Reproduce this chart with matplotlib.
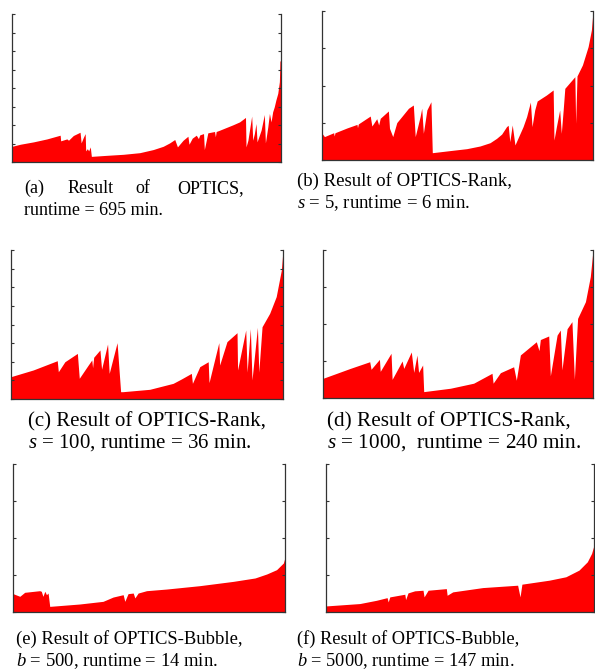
import matplotlib
matplotlib.use("Agg")
import matplotlib.pyplot as plt

# reachability profiles: x as fraction of width, y as fraction of axis height
optics_x = [0.000, 0.031, 0.080, 0.130, 0.179, 0.181, 0.204, 0.210, 0.228, 0.253, 0.257, 0.265,
            0.272, 0.274, 0.280, 0.285, 0.291, 0.295, 0.352, 0.414, 0.475, 0.525, 0.562, 0.586,
            0.605, 0.615, 0.636, 0.654, 0.658, 0.670, 0.685, 0.693, 0.698, 0.712, 0.715, 0.728,
            0.753, 0.756, 0.759, 0.772, 0.821, 0.846, 0.868, 0.870, 0.877, 0.891, 0.895, 0.901,
            0.907, 0.911, 0.926, 0.938, 0.942, 0.951, 0.957, 0.963, 0.969, 0.975, 0.981, 0.988,
            0.994, 0.996, 1.000]
optics_y = [0.106, 0.120, 0.136, 0.156, 0.181, 0.143, 0.156, 0.147, 0.179, 0.201, 0.129, 0.165,
            0.192, 0.075, 0.090, 0.075, 0.102, 0.038, 0.045, 0.052, 0.063, 0.084, 0.106, 0.129,
            0.152, 0.102, 0.147, 0.174, 0.120, 0.161, 0.181, 0.158, 0.183, 0.192, 0.084, 0.197,
            0.206, 0.170, 0.206, 0.215, 0.251, 0.271, 0.301, 0.102, 0.147, 0.310, 0.147, 0.192,
            0.260, 0.136, 0.215, 0.321, 0.129, 0.238, 0.328, 0.271, 0.339, 0.373, 0.419, 0.464,
            0.543, 0.683, 0.683]

rank5_x = [0.000, 0.009, 0.043, 0.045, 0.048, 0.092, 0.129, 0.131, 0.134, 0.178, 0.184, 0.202,
           0.209, 0.215, 0.245, 0.249, 0.261, 0.276, 0.294, 0.319, 0.337, 0.344, 0.362, 0.368,
           0.374, 0.387, 0.402, 0.407, 0.472, 0.534, 0.583, 0.620, 0.644, 0.663, 0.681, 0.687,
           0.693, 0.702, 0.712, 0.742, 0.755, 0.769, 0.775, 0.785, 0.794, 0.828, 0.853, 0.856,
           0.865, 0.877, 0.883, 0.890, 0.896, 0.933, 0.936, 0.941, 0.961, 0.982, 0.994, 1.000]
rank5_y = [0.179, 0.157, 0.183, 0.161, 0.183, 0.215, 0.239, 0.217, 0.242, 0.295, 0.228, 0.277,
           0.235, 0.280, 0.329, 0.213, 0.157, 0.251, 0.291, 0.347, 0.369, 0.157, 0.291, 0.347,
           0.179, 0.336, 0.391, 0.049, 0.063, 0.076, 0.094, 0.116, 0.145, 0.174, 0.224, 0.233,
           0.123, 0.235, 0.101, 0.224, 0.291, 0.389, 0.224, 0.336, 0.396, 0.436, 0.470, 0.134,
           0.224, 0.336, 0.179, 0.336, 0.481, 0.559, 0.246, 0.564, 0.638, 0.761, 0.872, 1.000]

rank100_x = [0.000, 0.082, 0.170, 0.174, 0.198, 0.244, 0.251, 0.284, 0.297, 0.300, 0.304, 0.327,
             0.333, 0.355, 0.361, 0.390, 0.403, 0.411, 0.510, 0.596, 0.627, 0.663, 0.667, 0.694,
             0.725, 0.728, 0.764, 0.767, 0.794, 0.831, 0.833, 0.863, 0.868, 0.880, 0.886, 0.906,
             0.911, 0.923, 0.951, 0.975, 0.994, 1.000]
rank100_y = [0.150, 0.195, 0.257, 0.183, 0.250, 0.306, 0.139, 0.228, 0.262, 0.210, 0.280, 0.329,
             0.200, 0.369, 0.172, 0.378, 0.049, 0.049, 0.065, 0.105, 0.135, 0.172, 0.105, 0.217,
             0.250, 0.110, 0.378, 0.228, 0.385, 0.445, 0.195, 0.463, 0.180, 0.472, 0.128, 0.481,
             0.180, 0.485, 0.575, 0.687, 0.866, 1.000]

rank1000_x = [0.000, 0.101, 0.173, 0.178, 0.209, 0.212, 0.252, 0.256, 0.293, 0.299, 0.327, 0.336,
              0.348, 0.354, 0.369, 0.373, 0.472, 0.558, 0.626, 0.630, 0.657, 0.706, 0.716, 0.731,
              0.790, 0.800, 0.805, 0.836, 0.842, 0.867, 0.879, 0.885, 0.904, 0.922, 0.931, 0.943,
              0.972, 0.990, 1.000]
rank1000_y = [0.133, 0.200, 0.245, 0.194, 0.261, 0.180, 0.302, 0.126, 0.250, 0.200, 0.311, 0.173,
              0.290, 0.173, 0.223, 0.043, 0.066, 0.100, 0.167, 0.100, 0.171, 0.211, 0.120, 0.291,
              0.380, 0.320, 0.395, 0.419, 0.150, 0.425, 0.459, 0.190, 0.468, 0.516, 0.126, 0.538,
              0.651, 0.820, 1.000]

bubble500_x = [0.000, 0.025, 0.043, 0.098, 0.104, 0.110, 0.117, 0.123, 0.129, 0.135, 0.245, 0.331,
               0.368, 0.405, 0.411, 0.423, 0.442, 0.448, 0.460, 0.491, 0.564, 0.687, 0.810, 0.890,
               0.933, 0.969, 0.994, 1.000]
bubble500_y = [0.124, 0.106, 0.133, 0.144, 0.140, 0.106, 0.140, 0.117, 0.128, 0.038, 0.054, 0.072,
               0.101, 0.117, 0.072, 0.124, 0.128, 0.095, 0.128, 0.144, 0.155, 0.178, 0.207, 0.230,
               0.257, 0.286, 0.331, 0.369]

bubble5000_x = [0.000, 0.126, 0.188, 0.228, 0.232, 0.238, 0.294, 0.297, 0.306, 0.331, 0.362, 0.366,
                0.381, 0.449, 0.452, 0.473, 0.585, 0.715, 0.724, 0.731, 0.833, 0.895, 0.944, 0.975,
                0.991, 1.000]
bubble5000_y = [0.041, 0.057, 0.079, 0.097, 0.068, 0.102, 0.120, 0.084, 0.129, 0.143, 0.147, 0.102,
                0.147, 0.158, 0.113, 0.136, 0.165, 0.181, 0.102, 0.188, 0.215, 0.238, 0.283, 0.339,
                0.396, 0.452]

n_intervals = [8, 4, 8, 4, 4, 4]

caption_line2 = [
    "runtime = 695 min.",
    "$s$ = 5, runtime = 6 min.",
    "$s$ = 100, runtime = 36 min.",
    "$s$ = 1000,  runtime = 240 min.",
    "$b$ = 500, runtime = 14 min.",
    "$b$ = 5000, runtime = 147 min.",
]
caption_line1 = [
    None,
    "(b) Result of OPTICS-Rank,",
    "(c) Result of OPTICS-Rank,",
    "(d) Result of OPTICS-Rank,",
    "(e) Result of OPTICS-Bubble,",
    "(f) Result of OPTICS-Bubble,",
]
caption_a_words = ["(a)", "Result", "of", "OPTICS,"]

plt.rcParams["font.family"] = "Liberation Serif"
plt.rcParams["mathtext.fontset"] = "custom"
plt.rcParams["mathtext.rm"] = "Liberation Serif"
plt.rcParams["mathtext.it"] = "Liberation Serif:italic"

W, H = 595, 672
fig = plt.figure(figsize=(W / 100, H / 100), dpi=100)

# axes boxes in pixels: left, top, right, bottom
boxes = [
    (12, 14, 281, 162),
    (322, 11, 593, 160),
    (11, 250, 283, 399),
    (323, 250, 593, 398),
    (13, 464, 285, 612),
    (326, 464, 594, 612),
]
profiles = [
    (optics_x, optics_y),
    (rank5_x, rank5_y),
    (rank100_x, rank100_y),
    (rank1000_x, rank1000_y),
    (bubble500_x, bubble500_y),
    (bubble5000_x, bubble5000_y),
]

for (l, t, r, b), (px, py), n in zip(boxes, profiles, n_intervals):
    ax = fig.add_axes([l / W, 1 - b / H, (r - l) / W, (b - t) / H])
    ax.fill_between(px, py, 0, color="#ff0000", lw=0)
    ax.set_xlim(0, 1)
    ax.set_ylim(0, 1)
    ax.set_yticks([i / n for i in range(n + 1)])
    ax.set_xticks([])
    ax.tick_params(axis="y", direction="in", left=True, right=True,
                   labelleft=False, length=2, width=0.8, color="#333333")
    ax.spines["top"].set_visible(False)
    for s in ["left", "right", "bottom"]:
        ax.spines[s].set_color("#333333")
        ax.spines[s].set_linewidth(0.9)


def px_text(x, y, s, size, **kw):
    fig.text(x / W, 1 - y / H, s, fontsize=size, va="baseline", **kw)


# caption (a) first line is justified
a_pos = [(24, "left"), (68, "left"), (135, "left"), (244, "right")]
for word, (x, ha) in zip(caption_a_words, a_pos):
    px_text(x, 193, word, 13, ha=ha)

cap_x = [24, 297, 28, 327, 16, 297]
cap_y = [(193, 215), (186, 208), (426, 448), (426, 448), (644, 666), (644, 666)]
cap_size = [13, 13.5, 15, 15.3, 13.4, 13.2]

for i in range(6):
    y1, y2 = cap_y[i]
    if caption_line1[i]:
        px_text(cap_x[i], y1, caption_line1[i], cap_size[i], ha="left")
    px_text(cap_x[i], y2, caption_line2[i], cap_size[i], ha="left")

fig.savefig("out.png", dpi=100)
